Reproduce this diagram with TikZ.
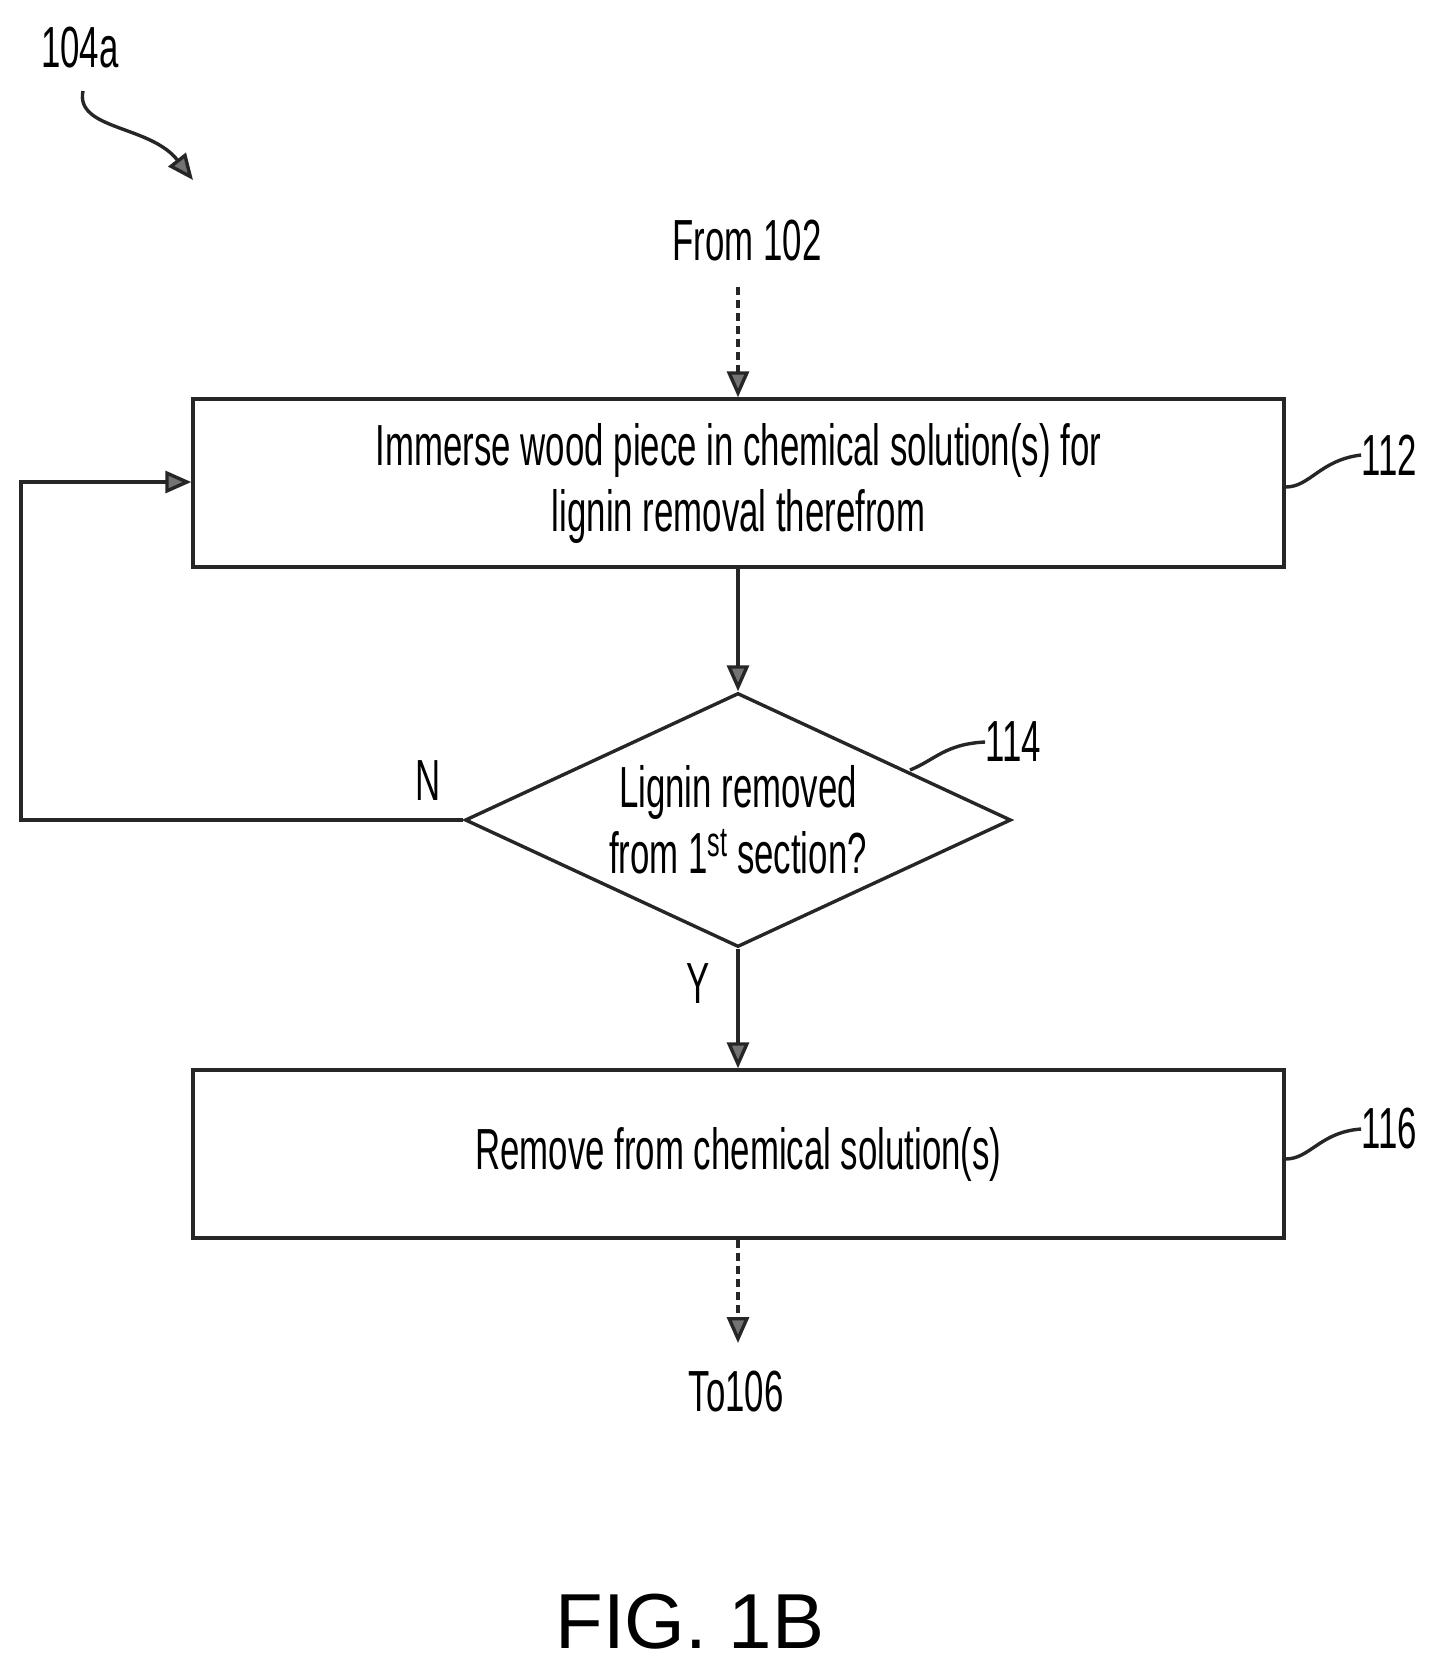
\documentclass[tikz,border=0pt]{standalone}
\usepackage{fontspec}
\setmainfont{Liberation Sans}[FakeStretch=0.6]
\newfontfamily\figfont{Liberation Sans}
\usetikzlibrary{arrows.meta,shapes.geometric}
\begin{document}
\begin{tikzpicture}[x=1pt,y=-1pt,
  ln/.style={line width=3.4pt,draw=black!85},
  arr/.style={ln,-{Triangle[length=26pt,width=22pt,fill=black!55]}},
  dsh/.style={arr,dash pattern=on 8pt off 5pt},
  box/.style={ln,rectangle,minimum width=1091pt,minimum height=168pt,align=center,font=\fontsize{58}{66}\selectfont},
  txt/.style={font=\fontsize{58}{66}\selectfont,inner sep=0pt}]
\useasboundingbox (0,0) rectangle (1429,1671);
\node[txt] (l104) at (80,48) {104a};
\coordinate (s1) at (83,91);
\coordinate (s2) at (193,180);
\draw[arr] (s1) .. controls (75,130) and (150,125) .. (s2);
\node[txt] (from) at (747,241) {From 102};
\coordinate (fs) at (738,287);
\node[box] (b1) at (738.5,483) {Immerse wood piece in chemical solution(s) for\\lignin removal therefrom};
\draw[dsh] (fs) -- (b1.north -| fs);
\node[ln,diamond,aspect=2.15,minimum width=546pt,minimum height=254pt,inner sep=0pt,align=center,font=\fontsize{58}{66}\selectfont] (d) at (738,820) {Lignin removed\\from 1\raisebox{0.55ex}{\fontsize{42}{42}\selectfont st} section?};
\draw[arr] (b1.south -| d.north) -- (d.north);
\node[box] (b2) at (738.5,1154) {Remove from chemical solution(s)};
\draw[arr] (d.south) -- (b2.north -| d.south);
\coordinate (lp1) at (21,820);
\coordinate (lp2) at (21,482);
\draw[arr] (d.west) -- (lp1) -- (lp2) -- (b1.west |- lp2);
\node[txt] at (428,781) {N};
\node[txt] at (698,984) {Y};
\node[txt] (to) at (736,1392) {To106};
\coordinate (te) at (738,1343);
\draw[dsh] (b2.south -| te) -- (te);
\node[txt] (n112) at (1389,455) {112};
\draw[ln] (b1.east |- 0,487) .. controls (1310,487) and (1320,460) .. (n112.west);
\node[txt] (n114) at (1013,742) {114};
\draw[ln] (910,770) .. controls (935,760) and (945,744) .. (n114.west);
\node[txt] (n116) at (1389,1129) {116};
\draw[ln] (b2.east |- 0,1159) .. controls (1310,1159) and (1320,1132) .. (n116.west);
\node[font=\figfont\fontsize{78}{84}\selectfont,inner sep=0pt] at (690,1622) {FIG. 1B};
\end{tikzpicture}
\end{document}
